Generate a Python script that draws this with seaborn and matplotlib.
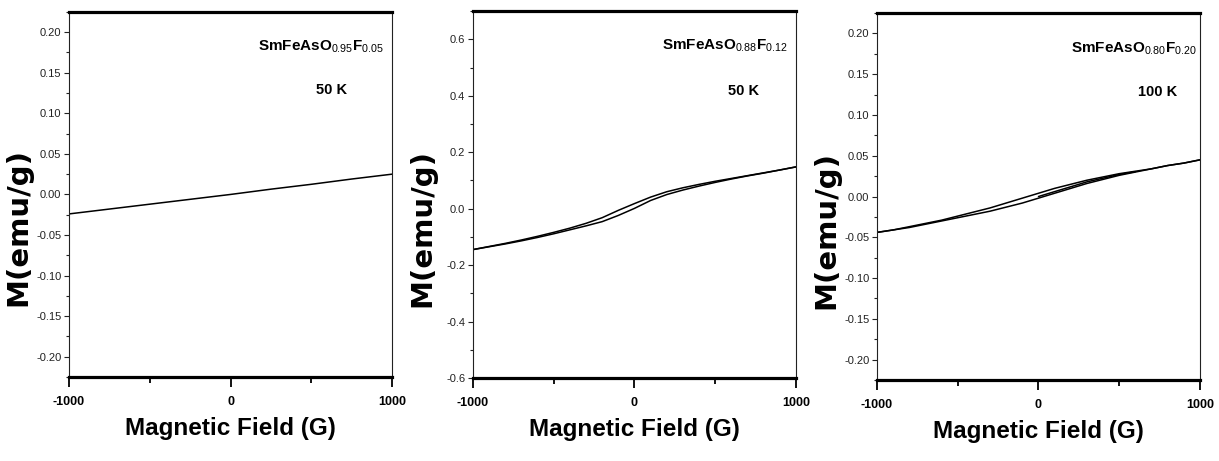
import matplotlib
matplotlib.use("Agg")
import matplotlib.pyplot as plt
from matplotlib.ticker import MultipleLocator, FixedLocator, FormatStrFormatter
import pandas as pd
import seaborn as sns

# ---- data: M(H) loops, field in gauss, magnetisation in emu/g ----
field_a = [-1000, -750, -500, -250, 0, 250, 500, 750, 1000]
m_a = [-0.024, -0.018, -0.012, -0.006, 0.000, 0.0065, 0.0125, 0.019, 0.025]

field_bc = [-1000, -900, -800, -700, -600, -500, -400, -300, -200, -100, 0,
            100, 200, 300, 400, 500, 600, 700, 800, 900, 1000]

m_b_down = [-0.145, -0.134, -0.123, -0.111, -0.098, -0.084, -0.069, -0.052,
            -0.032, -0.006, 0.018, 0.041, 0.060, 0.074, 0.086, 0.097, 0.107,
            0.117, 0.127, 0.137, 0.148]
m_b_up = [-0.145, -0.135, -0.125, -0.114, -0.102, -0.089, -0.075, -0.061,
          -0.046, -0.024, 0.001, 0.029, 0.050, 0.066, 0.080, 0.093, 0.105,
          0.116, 0.126, 0.137, 0.148]

m_c_down = [-0.044, -0.041, -0.037, -0.033, -0.029, -0.024, -0.019, -0.014,
            -0.008, -0.002, 0.004, 0.010, 0.015, 0.020, 0.024, 0.028, 0.031,
            0.034, 0.038, 0.041, 0.045]
m_c_up = [-0.044, -0.041, -0.038, -0.034, -0.030, -0.026, -0.022, -0.018,
          -0.013, -0.008, -0.002, 0.004, 0.010, 0.016, 0.021, 0.026, 0.030,
          0.034, 0.038, 0.041, 0.045]
field_c_init = [0, 100, 200, 300, 400, 500, 600]
m_c_init = [0.000, 0.006, 0.012, 0.018, 0.0225, 0.027, 0.0305]

labels = [r"$\mathbf{SmFeAsO}_{\mathrm{0.95}}\mathbf{F}_{\mathrm{0.05}}$",
          r"$\mathbf{SmFeAsO}_{\mathrm{0.88}}\mathbf{F}_{\mathrm{0.12}}$",
          r"$\mathbf{SmFeAsO}_{\mathrm{0.80}}\mathbf{F}_{\mathrm{0.20}}$"]
temps = ["50 K", "50 K", "100 K"]
x_ticks = [-1000, 0, 1000]


def frame(field, m, branch):
    return pd.DataFrame({"H": field, "M": m, "branch": branch})


data_a = frame(field_a, m_a, "down")
data_b = pd.concat([frame(field_bc, m_b_down, "down"),
                    frame(field_bc, m_b_up, "up")])
data_c = pd.concat([frame(field_bc, m_c_down, "down"),
                    frame(field_bc, m_c_up, "up"),
                    frame(field_c_init, m_c_init, "init")])

sns.set_style("ticks")
plt.rcParams["font.family"] = ["Liberation Sans", "DejaVu Sans"]
plt.rcParams["mathtext.fontset"] = "custom"
plt.rcParams["mathtext.rm"] = "Liberation Sans"
plt.rcParams["mathtext.bf"] = "Liberation Sans:bold"
plt.rcParams["axes.unicode_minus"] = False
plt.rcParams["text.color"] = "black"
plt.rcParams["axes.labelcolor"] = "black"

fig = plt.figure(figsize=(12.19, 4.61), dpi=100)

panels = [
    dict(rect=[0.0566, 0.1822, 0.265, 0.792], data=data_a, ylim=(-0.225, 0.225),
         major=0.05, minor=0.025, fmt="%.2f", tx=0.975, ty=0.896, kx=0.814, ky=0.775),
    dict(rect=[0.388, 0.180, 0.265, 0.796], data=data_b, ylim=(-0.6, 0.7),
         major=0.2, minor=0.1, fmt="%.1f", tx=0.975, ty=0.896, kx=0.839, ky=0.771),
    dict(rect=[0.7194, 0.1757, 0.265, 0.796], data=data_c, ylim=(-0.225, 0.225),
         major=0.05, minor=0.025, fmt="%.2f", tx=0.99, ty=0.894, kx=0.868, ky=0.774),
]

for i, p in enumerate(panels):
    ax = fig.add_axes(p["rect"])
    sns.lineplot(data=p["data"], x="H", y="M", units="branch", estimator=None,
                 sort=False, color="black", linewidth=1.1, ax=ax, legend=False)
    ax.set_xlim(-1000, 1000)
    ax.set_ylim(*p["ylim"])

    ax.xaxis.set_major_locator(FixedLocator(x_ticks))
    ax.xaxis.set_minor_locator(FixedLocator([-500, 500]))
    ax.yaxis.set_major_locator(MultipleLocator(p["major"]))
    ax.yaxis.set_minor_locator(MultipleLocator(p["minor"]))
    ax.yaxis.set_major_formatter(FormatStrFormatter(p["fmt"]))

    ax.tick_params(axis="x", which="major", direction="out", length=7, width=1.3,
                   pad=7, labelsize=9, color="black", labelcolor="black")
    ax.tick_params(axis="x", which="minor", direction="out", length=4, width=1.3,
                   color="black")
    ax.tick_params(axis="y", which="major", direction="out", length=3.5, width=0.8,
                   pad=2, labelsize=8, labelcolor="#222222", color="#222222")
    ax.tick_params(axis="y", which="minor", direction="out", length=2, width=0.8,
                   color="#222222")
    for lab in ax.get_xticklabels():
        lab.set_fontweight("bold")

    for side in ("top", "bottom"):
        ax.spines[side].set_linewidth(2.3)
        ax.spines[side].set_color("black")
    for side in ("left", "right"):
        ax.spines[side].set_linewidth(0.8)
        ax.spines[side].set_color("#222222")

    ax.set_xlabel("Magnetic Field (G)", fontsize=17.5, fontweight="bold",
                  labelpad=6)
    ax.set_ylabel("M(emu/g)", fontsize=21, fontweight="bold",
                  family=["DejaVu Sans"])
    ax.yaxis.set_label_coords(-0.112, 0.41)

    ax.text(p["tx"], p["ty"], labels[i], transform=ax.transAxes, ha="right",
            va="baseline", fontsize=11)
    ax.text(p["kx"], p["ky"], temps[i], transform=ax.transAxes, ha="center",
            va="baseline", fontsize=10.5, fontweight="bold")

fig.savefig("out.png", dpi=100)
